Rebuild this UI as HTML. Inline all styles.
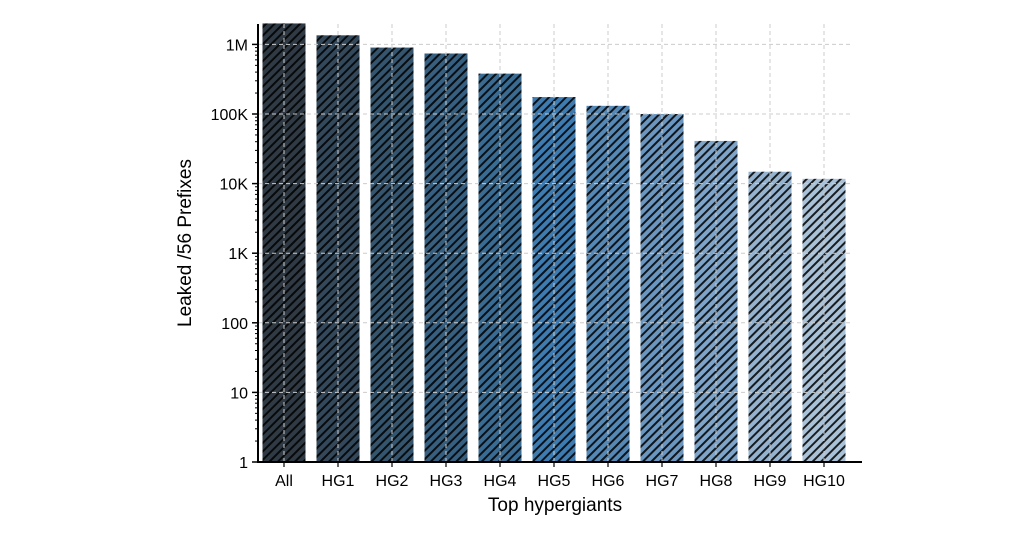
<!DOCTYPE html>
<html><head><meta charset="utf-8"><style>
body{margin:0;background:#fff;}
svg{display:block;font-family:"Liberation Sans","DejaVu Sans",sans-serif;}
</style></head><body>
<svg id="chart" width="1024" height="538">
<defs>
<pattern id="hatch" patternUnits="userSpaceOnUse" width="6" height="6" patternTransform="rotate(45)">
<rect x="0" y="0" width="2" height="6" fill="#000" opacity="0.85"/>
</pattern>
</defs>
<g id="grid"></g>
<g id="bars"></g>
<g id="axes"></g>
<text x="555" y="511" font-size="19" text-anchor="middle" fill="#000">Top hypergiants</text>
<text transform="translate(191,243) rotate(-90)" font-size="19" text-anchor="middle" fill="#000">Leaked /56 Prefixes</text>
</svg>
<script>
const categories=["All","HG1","HG2","HG3","HG4","HG5","HG6","HG7","HG8","HG9","HG10"];
const values=[2000000,1350000,900000,740000,380000,175000,131000,100000,41000,14800,11700];
const colors=["#2f3a44","#33495b","#35556e","#375f80","#3a6b92","#3e7bb0","#5688b5","#6a96bf","#7ea5c9","#95b3cf","#a9c2d8"];
const tickValues=[1,10,100,1000,10000,100000,1000000];
const tickLabels=["1","10","100","1K","10K","100K","1M"];
const NS="http://www.w3.org/2000/svg";
const plotLeft=258,plotRight=852,plotBottom=462,decade=69.6,plotTop=24;
function yScale(v){return plotBottom-Math.log10(v)*decade;}
const step=54,bw=43;
function xc(i){return 284+i*step;}
function mk(tag,attrs,parent){const e=document.createElementNS(NS,tag);for(const k in attrs)e.setAttribute(k,attrs[k]);parent.appendChild(e);return e;}
const barsG=document.getElementById('bars'),axesG=document.getElementById('axes');
categories.forEach((c,i)=>{
  const yy=yScale(values[i]);
  const r=mk('rect',{x:xc(i)-bw/2,y:yy,width:bw,height:plotBottom-yy,fill:colors[i]},barsG);
  
  
  mk('rect',{x:xc(i)-bw/2,y:yy,width:bw,height:plotBottom-yy,fill:'url(#hatch)'},barsG);
  const gl=mk('line',{x1:xc(i),x2:xc(i),y1:plotTop,y2:plotBottom,stroke:'#ccc','stroke-dasharray':'4,3','stroke-width':1},axesG);
  
  
  const t=mk('text',{x:xc(i),y:486,'font-size':16,'text-anchor':'middle',fill:'#000'},axesG);
  t.textContent=c;
  
  
  mk('line',{x1:xc(i),x2:xc(i),y1:plotBottom,y2:plotBottom+5,stroke:'#000','stroke-width':1.2},axesG);
});
tickValues.forEach((v,i)=>{
  const yy=yScale(v);
  if(i>0){const g=mk('line',{x1:plotLeft,x2:plotRight,y1:yy,y2:yy,stroke:'#ccc','stroke-dasharray':'4,3','stroke-width':1},axesG);
  
  }
  mk('line',{x1:plotLeft-6,x2:plotLeft,y1:yy,y2:yy,stroke:'#000','stroke-width':1.5},axesG);
  const t=mk('text',{x:plotLeft-10,y:yy+6,'font-size':16,'text-anchor':'end',fill:'#000'},axesG);
  t.textContent=tickLabels[i];
  
  
  for(let m=2;m<=9;m++){const mv=v*m;if(yScale(mv)<plotTop)break;
    mk('line',{x1:plotLeft-3,x2:plotLeft,y1:yScale(mv),y2:yScale(mv),stroke:'#000','stroke-width':1},axesG);}
});
const ys=mk('line',{x1:plotLeft,x2:plotLeft,y1:plotTop,y2:plotBottom+1,stroke:'#000','stroke-width':2},axesG);


const xs=mk('line',{x1:plotLeft-1,x2:plotRight+10,y1:plotBottom,y2:plotBottom,stroke:'#000','stroke-width':2},axesG);


</script>
</body></html>
